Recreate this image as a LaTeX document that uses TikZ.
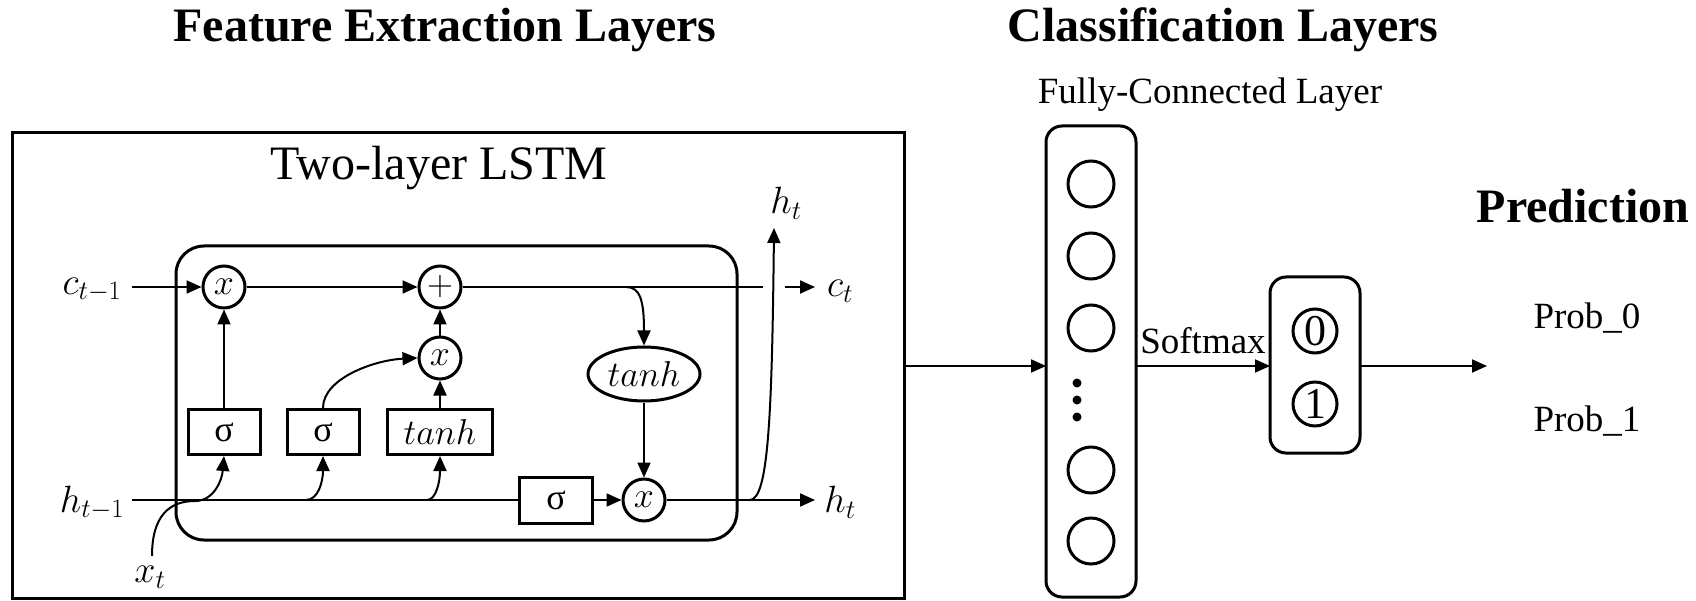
\RequirePackage{fix-cm}
\documentclass[tikz,border=0pt]{standalone}
\usepackage{fontspec}
\setmainfont{Liberation Serif}
\usetikzlibrary{arrows.meta,shapes.geometric}
\tikzset{
  conn/.style={line width=2pt},
  arr/.style={conn,-{Triangle[length=15pt,width=13pt]}},
  boxline/.style={line width=3pt},
  opcirc/.style={circle,draw,boxline,minimum size=42pt,inner sep=0pt,font=\fontsize{36}{40}\selectfont},
  gatebox/.style={rectangle,draw,boxline,minimum width=72pt,minimum height=45pt,inner sep=0pt,font=\fontsize{36}{40}\selectfont},
  mlab/.style={inner sep=0pt,font=\fontsize{38}{44}\selectfont},
  title/.style={inner sep=0pt,font=\fontsize{48}{56}\selectfont\bfseries},
  plain/.style={inner sep=0pt,font=\fontsize{37}{44}\selectfont},
  neuron/.style={circle,draw,boxline,minimum size=46pt,inner sep=0pt},
  outn/.style={circle,draw,boxline,minimum size=44pt,inner sep=0pt,font=\fontsize{44}{48}\selectfont},
}
\begin{document}
\begin{tikzpicture}[x=1pt,y=-1pt]
\useasboundingbox (0,0) rectangle (1696,601);
% titles
\node[title] (t1) at (445,30) {Feature Extraction Layers};
\node[title] (t2) at (1223,30) {Classification Layers};
\node[title] (t3) at (1583,206) {Prediction};
% outer box
\draw[boxline] (12,133) rectangle (904,598);
\coordinate (outE) at (904,366);
\node[inner sep=0pt,font=\fontsize{48}{56}\selectfont] (lstm) at (439,168) {Two-layer LSTM};
% inner cell
\draw[boxline,rounded corners=28pt] (176,246) rectangle (737,540);
% labels
\node[mlab] (cprev) at (92,290) {$c_{t-1}$};
\node[mlab] (hprev) at (92,503) {$h_{t-1}$};
\node[mlab] (xt) at (150,577) {$x_t$};
\node[mlab] (ct) at (840,291) {$c_t$};
\node[mlab] (ht) at (840,502) {$h_t$};
\node[mlab] (httop) at (786,203) {$h_t$};
% ops
\node[opcirc] (f) at (224,287) {$x$};
\node[opcirc] (plus) at (440,287) {$+$};
\node[opcirc] (ix) at (440,358) {$x$};
\node[opcirc] (ox) at (644,500) {$x$};
\node[gatebox] (s1) at (224,432) {σ};
\node[gatebox] (s2) at (323,432) {σ};
\node[gatebox,minimum width=105pt] (th) at (440,432) {$tanh$};
\node[gatebox,minimum width=73pt,minimum height=46pt] (s3) at (556,500) {σ};
\node[ellipse,draw,boxline,minimum width=112pt,minimum height=54pt,inner sep=0pt,font=\fontsize{36}{40}\selectfont] (tanhE) at (644,374) {$tanh$};
% coordinates
\coordinate (cin) at (132,287);
\coordinate (hin) at (132,500);
\coordinate (cend) at (763,287);
\coordinate (cas) at (785,287);
\coordinate (cae) at (815,287);
\coordinate (hae) at (815,500);
\coordinate (cbr) at (626,287);
\coordinate (hbr) at (750,500);
\coordinate (htip) at (774,228);
\coordinate (xst) at (152,556);
% c line
\draw[arr] (cin) -- (f.west);
\draw[arr] (f.east) -- (plus.west);
\draw[conn] (plus.east) -- (cend);
\draw[arr] (cas) -- (cae);
\draw[arr] (cbr) .. controls (640,287) and (644,300) .. (tanhE.north);
\draw[arr] (tanhE.south) -- (ox.north);
% h line
\draw[conn] (hin) -- (s3.west);
\draw[arr] (s3.east) -- (ox.west);
\draw[arr] (ox.east) -- (hae);
\draw[arr] (hbr) .. controls (768,499) and (772,420) .. (htip);
% gates
\draw[arr] (s1.north) -- (f.south);
\draw[arr] (th.north) -- (ix.south);
\draw[arr] (ix.north) -- (plus.south);
\draw[arr] (s2.north) .. controls (323,378) and (375,360) .. (ix.west);
% x_t
\draw[arr] (xst) .. controls (152,515) and (170,501) .. (195,501) .. controls (214,501) and (222,480) .. (s1.south);
\draw[arr] (306,500) .. controls (318,500) and (323,482) .. (s2.south);
\draw[arr] (427,500) .. controls (436,500) and (440,482) .. (th.south);
% FC layer
\node[plain] (fclab) at (1210,95) {Fully-Connected Layer};
\draw[boxline,rounded corners=16pt] (1046,126) rectangle (1136,597);
\coordinate (fcW) at (1046,366);
\coordinate (fcE) at (1136,366);
\node[neuron] (n1) at (1091,184) {};
\node[neuron] (n2) at (1091,256) {};
\node[neuron] (n3) at (1091,328) {};
\node[neuron] (n4) at (1091,470) {};
\node[neuron] (n5) at (1091,541) {};
\fill (1077,383) circle (4.5pt);
\fill (1077,400) circle (4.5pt);
\fill (1077,417) circle (4.5pt);
% softmax
\draw[boxline,rounded corners=16pt] (1270,277) rectangle (1360,453);
\coordinate (smW) at (1270,366);
\coordinate (smE) at (1360,366);
\coordinate (predW) at (1487,366);
\node[outn] (o0) at (1315,331) {0};
\node[outn] (o1) at (1315,404) {1};
\draw[arr] (outE) -- (fcW);
\draw[arr] (fcE) -- node[plain,anchor=base,yshift=13pt] (smlab) {Softmax} (smW);
\draw[arr] (smE) -- (predW);
\node[plain] (p0) at (1587,318) {Prob\_0};
\node[plain] (p1) at (1587,421) {Prob\_1};
\end{tikzpicture}
\end{document}
